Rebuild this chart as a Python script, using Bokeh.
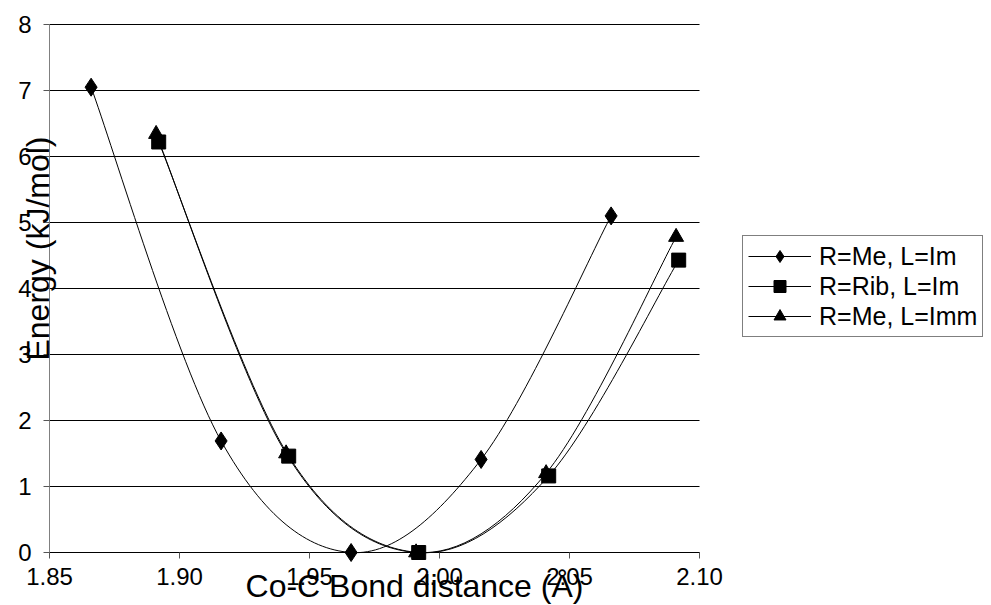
import math
from bokeh.plotting import figure
from bokeh.models import Legend, LegendItem, FixedTicker, Range1d, CustomJSTickFormatter, Label
from bokeh.embed import file_html
from bokeh.resources import INLINE

# ---- data ----
x_me_im = [1.866, 1.916, 1.966, 2.016, 2.066]
e_me_im = [7.05, 1.69, 0.0, 1.41, 5.10]
x_rib_im = [1.892, 1.942, 1.992, 2.042, 2.092]
e_rib_im = [6.22, 1.46, 0.0, 1.16, 4.43]
x_me_imm = [1.891, 1.941, 1.991, 2.041, 2.091]
e_me_imm = [6.34, 1.50, 0.0, 1.20, 4.78]
series_names = ["R=Me, L=Im", "R=Rib, L=Im", "R=Me, L=Imm"]
x_ticks = [1.85, 1.90, 1.95, 2.00, 2.05, 2.10]
y_ticks = [0, 1, 2, 3, 4, 5, 6, 7, 8]
x_title = "Co-C Bond distance (Å)"
y_title = "Energy (kJ/mol)"

FONT = "Liberation Sans"
W, H = 991, 605
# pixel layout of the plotting area inside the canvas
PL, PR, PT, PB = 49, 699, 24, 552

x0, x1 = x_ticks[0], x_ticks[-1]
y0, y1 = y_ticks[0], y_ticks[-1]
xs_per_px = (x1 - x0) / (PR - PL)
ys_per_px = (y1 - y0) / (PB - PT)
x_range = Range1d(x0 - PL * xs_per_px, x1 + (W - PR) * xs_per_px)
y_range = Range1d(y0 - (H - PB) * ys_per_px, y1 + PT * ys_per_px)

p = figure(width=W, height=H, output_backend="svg", toolbar_location=None,
           x_range=x_range, y_range=y_range,
           min_border_left=0, min_border_right=0, min_border_top=0, min_border_bottom=0)
p.outline_line_color = None
p.background_fill_color = "white"
p.border_fill_color = "white"
p.xgrid.grid_line_color = None
p.ygrid.grid_line_color = None

# horizontal gridlines at the y ticks, spanning the x-axis extent
p.segment(x0=[x0] * len(y_ticks), x1=[x1] * len(y_ticks), y0=y_ticks, y1=y_ticks,
          line_color="black", line_width=1)

p.xaxis.ticker = FixedTicker(ticks=x_ticks)
p.yaxis.ticker = FixedTicker(ticks=y_ticks)
p.xaxis.formatter = CustomJSTickFormatter(code="return tick.toFixed(2);")
p.xaxis.fixed_location = y0
p.yaxis.fixed_location = x0
p.xaxis.bounds = (x0, x1)
p.yaxis.bounds = (y0, y1)
for ax in (p.xaxis, p.yaxis):
    ax.major_label_text_font = FONT
    ax.major_label_text_font_size = "24px"
    ax.major_label_text_color = "black"
    ax.minor_tick_line_color = None
    ax.major_tick_in = 0
    ax.major_tick_out = 6
p.xaxis.axis_line_color = "black"
p.xaxis.major_tick_line_color = "#555555"
p.yaxis.axis_line_color = "#808080"
p.yaxis.major_tick_line_color = "#555555"
p.xaxis.major_label_standoff = 9
p.yaxis.major_label_standoff = 12

# axis titles (positioned like the reference, overlapping the tick labels)
p.add_layout(Label(x=414, y=20, x_units="screen", y_units="screen", text=x_title,
                   text_font=FONT, text_font_size="32px", text_color="black",
                   text_align="center", text_baseline="alphabetic"))
p.add_layout(Label(x=37, y=H - 248, x_units="screen", y_units="screen", text=y_title,
                   angle=math.pi / 2, text_font=FONT, text_font_size="32px",
                   text_color="black", text_align="center", text_baseline="middle"))


def smooth_segments(xs, ys):
    # Excel-like smoothed line: cubic Bezier segments (Catmull-Rom control points)
    n = len(xs)
    seg = dict(x0=[], y0=[], x1=[], y1=[], cx0=[], cy0=[], cx1=[], cy1=[])
    for i in range(n - 1):
        xp, yp = (xs[i - 1], ys[i - 1]) if i > 0 else (xs[i], ys[i])
        xn, yn = (xs[i + 2], ys[i + 2]) if i + 2 < n else (xs[i + 1], ys[i + 1])
        seg["x0"].append(xs[i]); seg["y0"].append(ys[i])
        seg["x1"].append(xs[i + 1]); seg["y1"].append(ys[i + 1])
        seg["cx0"].append(xs[i] + (xs[i + 1] - xp) / 6.0)
        seg["cy0"].append(ys[i] + (ys[i + 1] - yp) / 6.0)
        seg["cx1"].append(xs[i + 1] - (xn - xs[i]) / 6.0)
        seg["cy1"].append(ys[i + 1] - (yn - ys[i]) / 6.0)
    return seg


series = [
    (x_me_im, e_me_im, "diamond", 18),
    (x_rib_im, e_rib_im, "square", 14),
    (x_me_imm, e_me_imm, "triangle", 15),
]
items = []
for (xs, ys, marker, size), name in zip(series, series_names):
    seg = smooth_segments(xs, ys)
    p.bezier(x0="x0", y0="y0", x1="x1", y1="y1", cx0="cx0", cy0="cy0", cx1="cx1", cy1="cy1",
             source=seg, line_color="black", line_width=1)
    leg_line = p.line([xs[0]], [ys[0]], line_color="black", line_width=1)
    sc = p.scatter(xs, ys, marker=marker, size=size,
                   fill_color="black", line_color="black")
    items.append(LegendItem(label=name, renderers=[leg_line, sc]))

legend = Legend(items=items, location=(742, H - 337))
legend.label_text_font = FONT
legend.label_text_font_size = "25px"
legend.label_text_color = "black"
legend.border_line_color = "black"
legend.border_line_width = 1
legend.background_fill_color = "white"
legend.background_fill_alpha = 1
legend.glyph_width = 63
legend.glyph_height = 30
legend.label_height = 30
legend.label_standoff = 8
legend.padding = 5
legend.spacing = 0
legend.margin = 0
p.add_layout(legend, "center")

open("out.html", "w").write(file_html(p, INLINE))
